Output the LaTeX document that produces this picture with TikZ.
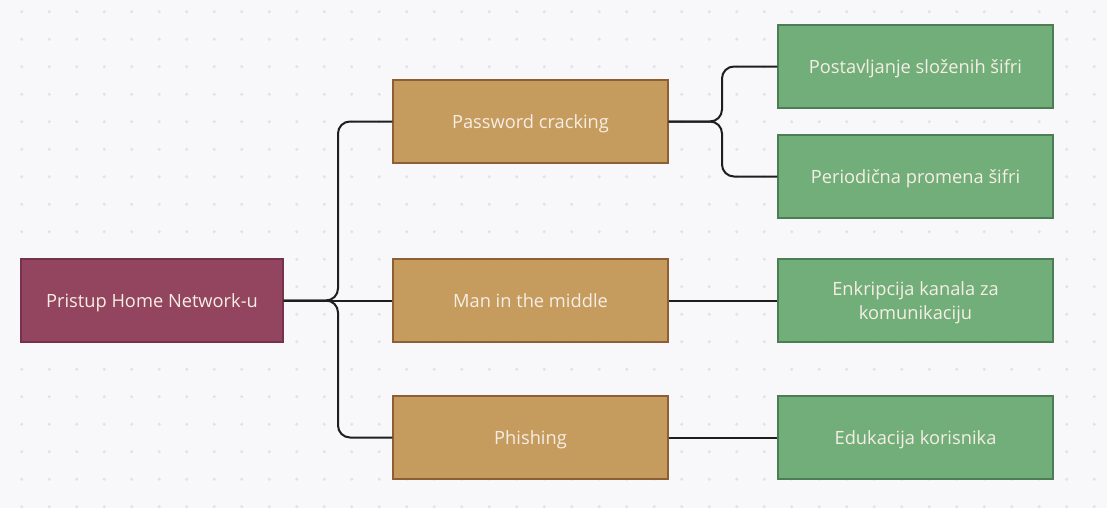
\documentclass[tikz,border=0pt]{standalone}
\usepackage{fontspec}
\setmainfont{Open Sans}
\definecolor{bgc}{HTML}{F8F8FB}
\definecolor{dotc}{HTML}{E1E1E6}
\definecolor{rootfill}{HTML}{93455F}
\definecolor{rootdraw}{HTML}{76324A}
\definecolor{orfill}{HTML}{C59B5E}
\definecolor{ordraw}{HTML}{8E5E34}
\definecolor{grfill}{HTML}{72AE7A}
\definecolor{grdraw}{HTML}{4C7D55}
\definecolor{linec}{HTML}{1E1E1E}
\definecolor{txtc}{HTML}{F6EEE4}
\tikzset{
  boxbase/.style={rectangle, line width=1.1pt, minimum height=62.25pt, text=txtc,
    font=\fontsize{13.7}{18.2}\selectfont, align=center, inner sep=2pt,
    text height=15.2pt, text depth=4pt},
  rootbox/.style={boxbase, fill=rootfill, draw=rootdraw, minimum width=196.5pt},
  attackbox/.style={boxbase, fill=orfill, draw=ordraw, minimum width=206.25pt},
  defbox/.style={boxbase, fill=grfill, draw=grdraw, minimum width=206.25pt},
  twoline/.style={text height=33.2pt, text depth=4pt},
  conn/.style={draw=linec, line width=1.5pt, rounded corners=9pt},
}
\begin{document}
\begin{tikzpicture}[x=0.75pt,y=-0.75pt]
\fill[bgc] (0,0) rectangle (1107,508);
\useasboundingbox (0,0) rectangle (1107,508);
\foreach \i in {0,...,39}{
  \foreach \j in {0,...,18}{
    \fill[dotc] ({21.7+27.5*\i},{11.7+27.5*\j}) circle (1.2pt);
  }
}
\node[rootbox] (root) at (152,300.5) {Pristup Home Network-u};
\node[attackbox] (pw) at (530.5,121.5) {Password cracking};
\node[attackbox] (mitm) at (530.5,300.5) {Man in the middle};
\node[attackbox] (ph) at (530.5,437.5) {Phishing};
\node[defbox] (d1) at (915.5,66.5) {Postavljanje složenih šifri};
\node[defbox] (d2) at (915.5,176.5) {Periodična promena šifri};
\node[defbox, twoline] (d3) at (915.5,300.5) {Enkripcija kanala za\\komunikaciju};
\node[defbox] (d4) at (915.5,437.5) {Edukacija korisnika};
\coordinate (b1) at (338,300.5);
\coordinate (b2) at (722,121.5);
\draw[conn] (root.east) -- (mitm.west);
\draw[conn] (root.east) -- (b1) -- (b1 |- pw.west) -- (pw.west);
\draw[conn] (root.east) -- (b1) -- (b1 |- ph.west) -- (ph.west);
\draw[conn] (pw.east) -- (b2) -- (b2 |- d1.west) -- (d1.west);
\draw[conn] (pw.east) -- (b2) -- (b2 |- d2.west) -- (d2.west);
\draw[conn] (mitm.east) -- (d3.west);
\draw[conn] (ph.east) -- (d4.west);
\end{tikzpicture}
\end{document}
